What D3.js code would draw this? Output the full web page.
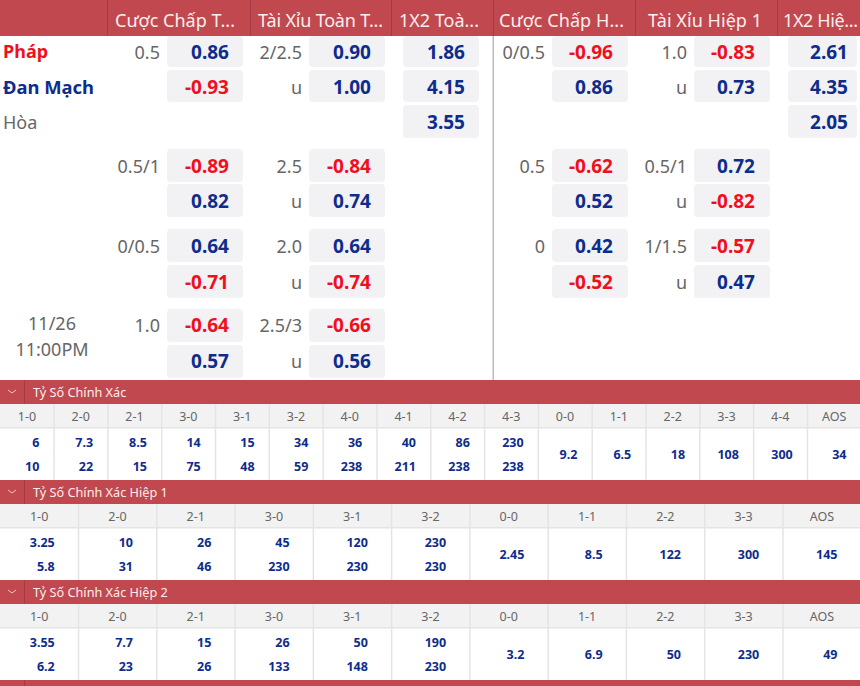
<!DOCTYPE html>
<html><head><meta charset="utf-8">
<script src="https://cdn.jsdelivr.net/npm/d3@7"></script>
<style>
html,body{margin:0;padding:0;background:#fff;overflow:hidden}
svg{display:block}
text{font-family:"Noto Sans","Open Sans",sans-serif}
</style></head><body><div id="c"></div>
<script>
// ---- data ----
const marketHeaders = ["Cược Chấp T...","Tài Xỉu Toàn T...","1X2 Toà...","Cược Chấp H...","Tài Xỉu Hiệp 1","1X2 Hiệ..."];
const teams = ["Pháp","Đan Mạch","Hòa"];
const kickoff = ["11/26","11:00PM"];
const rowKeys = ["r0","r1","r2","r3","r4","r5","r6","r7","r8"];

const fullHandicapLabels = ["0.5","","","0.5/1","","0/0.5","","1.0",""];
const fullHandicapOdds   = [0.86,-0.93,null,-0.89,0.82,0.64,-0.71,-0.64,0.57];
const fullTotalLabels    = ["2/2.5","u","","2.5","u","2.0","u","2.5/3","u"];
const fullTotalOdds      = [0.90,1.00,null,-0.84,0.74,0.64,-0.74,-0.66,0.56];
const full1x2Odds        = [1.86,4.15,3.55,null,null,null,null,null,null];
const halfHandicapLabels = ["0/0.5","","","0.5","","0","","",""];
const halfHandicapOdds   = [-0.96,0.86,null,-0.62,0.52,0.42,-0.52,null,null];
const halfTotalLabels    = ["1.0","u","","0.5/1","u","1/1.5","u","",""];
const halfTotalOdds      = [-0.83,0.73,null,0.72,-0.82,-0.57,0.47,null,null];
const half1x2Odds        = [2.61,4.35,2.05,null,null,null,null,null,null];

const scoreTitle1 = "Tỷ Số Chính Xác";
const scoreCols1  = ["1-0","2-0","2-1","3-0","3-1","3-2","4-0","4-1","4-2","4-3","0-0","1-1","2-2","3-3","4-4","AOS"];
const scoreHome1  = ["6","7.3","8.5","14","15","34","36","40","86","230","9.2","6.5","18","108","300","34"];
const scoreAway1  = ["10","22","15","75","48","59","238","211","238","238"];

const scoreTitle2 = "Tỷ Số Chính Xác Hiệp 1";
const scoreCols2  = ["1-0","2-0","2-1","3-0","3-1","3-2","0-0","1-1","2-2","3-3","AOS"];
const scoreHome2  = ["3.25","10","26","45","120","230","2.45","8.5","122","300","145"];
const scoreAway2  = ["5.8","31","46","230","230","230"];

const scoreTitle3 = "Tỷ Số Chính Xác Hiệp 2";
const scoreCols3  = ["1-0","2-0","2-1","3-0","3-1","3-2","0-0","1-1","2-2","3-3","AOS"];
const scoreHome3  = ["3.55","7.7","15","26","50","190","3.2","6.9","50","230","49"];
const scoreAway3  = ["6.2","23","26","133","148","230"];

// ---- layout ----
const W=860,H=686;
const RED="#c2484f",BLUE="#0e2c8c",HOT="#f00f1c",GREY="#666",BTN="#f2f2f4",SUB="#f2f2f2",LINE="#e4e4e4";
const svg=d3.select("#c").append("svg").attr("width",W).attr("height",H).attr("viewBox",`0 0 ${W} ${H}`);
svg.append("rect").attr("width",W).attr("height",H).attr("fill","#fff");

const headEdges=[107,250,391,493,635,777];
const headStart=[115,258,399,499,648,783];
const headWidth=[120,125,80,125,114,75];
svg.append("rect").attr("width",W).attr("height",36).attr("fill",RED);
headEdges.forEach(x=>svg.append("rect").attr("x",x).attr("y",0).attr("width",1).attr("height",36).attr("fill","#a53a42"));
svg.selectAll(".mh").data(marketHeaders).join("text").attr("class","mh")
  .attr("x",(d,i)=>headStart[i]).attr("y",27)
  .attr("textLength",(d,i)=>headWidth[i]).attr("lengthAdjust","spacing")
  .attr("font-size",18).attr("fill","#fbeeee").text(d=>d);
svg.append("rect").attr("x",492.5).attr("y",36).attr("width",1.5).attr("height",344).attr("fill","#bdbdbd");

const yRow=d3.scaleOrdinal().domain(rowKeys).range([36,70,105,149,184,229,265,309,345]);
const hRow=d3.scaleOrdinal().domain(rowKeys).range([31,32,33,33,33,33,33,33,33]);
const yText=d3.scaleOrdinal().domain(rowKeys).range([58.5,93.5,128.5,172.5,207.5,252.5,288.5,331.5,367.5]);

const markets=[
 {labels:fullHandicapLabels,odds:fullHandicapOdds,x:167,w:76,t:62},
 {labels:fullTotalLabels,odds:fullTotalOdds,x:309,w:76,t:62},
 {labels:null,odds:full1x2Odds,x:403,w:76,t:62},
 {labels:halfHandicapLabels,odds:halfHandicapOdds,x:552,w:76,t:61},
 {labels:halfTotalLabels,odds:halfTotalOdds,x:694,w:76,t:61},
 {labels:null,odds:half1x2Odds,x:788,w:69,t:60}];
const fmt=d3.formatLocale({decimal:".",thousands:",",grouping:[3],currency:["",""],minus:"-"}).format(".2f");
markets.forEach(m=>{
  const g=svg.append("g");
  const rows=rowKeys.map((k,i)=>({k,odd:m.odds[i],label:m.labels?m.labels[i]:""}));
  const on=rows.filter(r=>r.odd!==null);
  g.selectAll("rect").data(on).join("rect")
   .attr("x",m.x).attr("y",r=>yRow(r.k)).attr("width",m.w).attr("height",r=>hRow(r.k)).attr("rx",4).attr("fill",BTN);
  g.selectAll(".o").data(on).join("text").attr("class","o")
   .attr("x",m.x+m.t).attr("y",r=>yText(r.k)).attr("text-anchor","end")
   .attr("font-size",19).attr("font-weight",700).attr("fill",r=>r.odd<0?HOT:BLUE).text(r=>fmt(r.odd));
  g.selectAll(".l").data(rows.filter(r=>r.label)).join("text").attr("class","l")
   .attr("x",m.x-7).attr("y",r=>yText(r.k)).attr("text-anchor","end")
   .attr("font-size",18).attr("fill",GREY).text(r=>r.label);
});

svg.selectAll(".team").data(teams).join("text").attr("class","team")
  .attr("x",3).attr("y",(d,i)=>[58,94,129][i]).attr("font-size",(d,i)=>i==1?18.4:18)
  .attr("font-weight",(d,i)=>i<2?700:400).attr("fill",(d,i)=>[HOT,BLUE,GREY][i]).text(d=>d);
svg.selectAll(".ko").data(kickoff).join("text").attr("class","ko")
  .attr("x",52).attr("y",(d,i)=>[330,356][i]).attr("text-anchor","middle")
  .attr("font-size",18).attr("fill",GREY).text(d=>d);

function section(top,title,cols,home,away,pad,bodyH,subH){
  const g=svg.append("g");
  const x=d3.scaleBand().domain(cols).range([0,861]);
  g.append("rect").attr("y",top).attr("width",W).attr("height",24).attr("fill",RED);
  g.append("rect").attr("x",24).attr("y",top).attr("width",1).attr("height",24).attr("fill","#a53a42");
  g.append("path").attr("d",`M8 ${top+10}l4 3l4 -3`).attr("fill","none").attr("stroke","#ecc9cb").attr("stroke-width",1);
  g.append("text").attr("x",33).attr("y",top+17).attr("font-size",12.7).attr("fill","#fbeeee").text(title);
  const s=top+24;
  g.append("rect").attr("y",s).attr("width",W).attr("height",subH).attr("fill",SUB);
  g.append("rect").attr("y",s+subH-1).attr("width",W).attr("height",1.5).attr("fill",LINE);
  g.selectAll(".c").data(cols).join("text").attr("class","c")
   .attr("x",d=>x(d)+x.bandwidth()/2).attr("y",s+17).attr("text-anchor","middle")
   .attr("font-size",12.5).attr("fill",GREY).text(d=>d);
  g.selectAll(".sep").data(cols.slice(1)).join("rect").attr("class","sep")
   .attr("x",d=>x(d)-.5).attr("y",s).attr("width",1.5).attr("height",subH+bodyH).attr("fill",LINE);
  const b=s+subH;
  const val=(sel,vals,yf)=>sel.data(vals).join("text")
   .attr("x",(d,i)=>x(cols[i])+x.bandwidth()-pad).attr("y",yf).attr("text-anchor","end")
   .attr("font-size",12.5).attr("font-weight",700).attr("fill",BLUE).text(d=>d);
  const n=away.length;
  val(g.selectAll(".h"),home,(d,i)=>i<n?b+18.5:b+31);
  val(g.selectAll(".a"),away,()=>b+43);
}
section(380,scoreTitle1,scoreCols1,scoreHome1,scoreAway1,14.5,52,24);
section(480,scoreTitle2,scoreCols2,scoreHome2,scoreAway2,23.5,52,24);
section(580,scoreTitle3,scoreCols3,scoreHome3,scoreAway3,23.5,52,24);
svg.append("rect").attr("y",680).attr("width",W).attr("height",6).attr("fill",RED);
svg.append("rect").attr("x",24).attr("y",680).attr("width",1).attr("height",6).attr("fill","#a53a42");
</script></body></html>
